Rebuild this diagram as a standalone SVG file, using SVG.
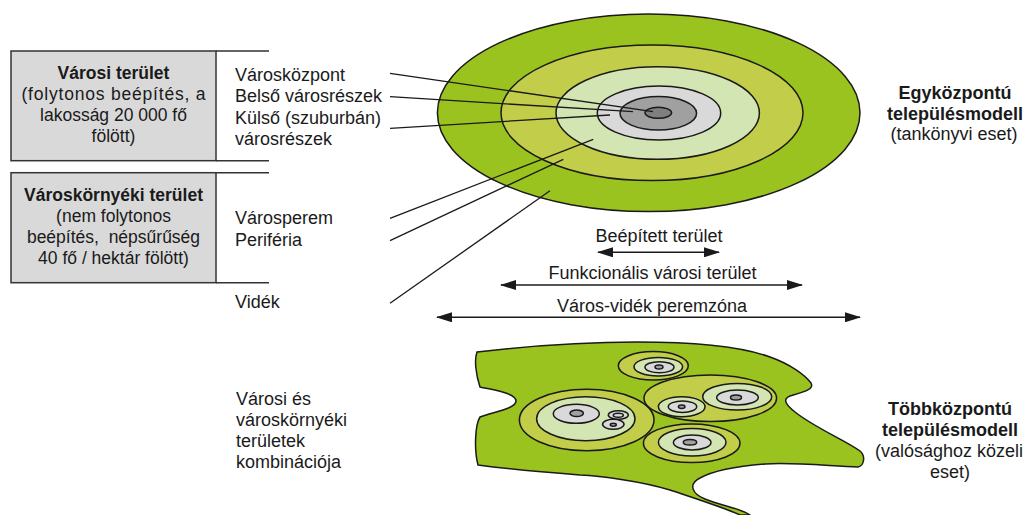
<svg xmlns="http://www.w3.org/2000/svg" width="1024" height="515" viewBox="0 0 1024 515">
<defs>
<style>
text{font-family:"Liberation Sans",Arial,sans-serif;font-size:18px;fill:#1a1a1a}
.s{font-size:17.5px}
.b{font-weight:bold}
.m{text-anchor:middle}
.box{fill:#d9d9d9;stroke:#333;stroke-width:1.5}
.fr{stroke:#333;stroke-width:1.5;fill:none}
.e{stroke:#1a1a1a;stroke-width:1.5}
.g1{fill:#9bc31f}.g2{fill:#c2ce4a}.g3{fill:#d3e5b2}.g4{fill:#d9d9d9}.g5{fill:#a0a0a0}.g6{fill:#7f7f7f}
.ld{stroke:#1a1a1a;stroke-width:1.3;fill:none}
.ar{stroke:#1a1a1a;stroke-width:1.6;fill:none;marker-start:url(#ah);marker-end:url(#ah)}
</style>
<marker id="ah" viewBox="0 0 16 10" refX="15" refY="5" markerWidth="16" markerHeight="10" markerUnits="userSpaceOnUse" orient="auto-start-reverse">
<path d="M0,0 L16,5 L0,10 Z" fill="#1a1a1a"/>
</marker>
</defs>
<rect width="1024" height="515" fill="#fff"/>

<g id="varosi-terulet">
<rect class="box" x="11" y="51" width="205" height="109.7"/>
<path class="fr" d="M216,51 H269 M216,160.7 H269"/>
<text class="s b m" x="113.5" y="78.5">Városi terület</text>
<text class="s m" x="113.5" y="99.5" textLength="184" lengthAdjust="spacing">(folytonos beépítés, a</text>
<text class="s m" x="113.5" y="120.5">lakosság 20 000 fő</text>
<text class="s m" x="113.5" y="141.5">fölött)</text>
</g>

<g id="varoskornyeki-terulet">
<rect class="box" x="11" y="172.7" width="205" height="110"/>
<path class="fr" d="M216,172.7 H269 M216,282.7 H269"/>
<text class="s b m" x="113.5" y="200.5">Városkörnyéki terület</text>
<text class="s m" x="113.5" y="221.5">(nem folytonos</text>
<text class="s m" x="113.5" y="242.5" xml:space="preserve">beépítés,  népsűrűség</text>
<text class="s m" x="113.5" y="263.5">40 fő / hektár fölött)</text>
</g>

<g id="zone-labels">
<text x="235" y="80.5">Városközpont</text>
<text x="235" y="102">Belső városrészek</text>
<text x="235" y="123.5">Külső (szuburbán)</text>
<text x="235" y="145">városrészek</text>
<text x="235" y="224">Városperem</text>
<text x="235" y="246">Periféria</text>
<text x="235" y="307.5">Vidék</text>
</g>

<g id="egykozpontu-modell">
<ellipse class="e g1" cx="648.7" cy="112.8" rx="211.3" ry="98.8"/>
<ellipse class="e g2" cx="652" cy="112.8" rx="151" ry="67.8"/>
<ellipse class="e g3" cx="657.7" cy="113" rx="101.7" ry="46.3"/>
<ellipse class="e g4" cx="659" cy="113" rx="61.7" ry="27"/>
<ellipse class="e g5" cx="658.3" cy="113.3" rx="38.3" ry="16.7"/>
<ellipse class="e g6" cx="658.3" cy="112.8" rx="13.3" ry="5.5"/>
</g>

<g id="egykozpontu-label">
<text class="b m" x="955" y="98.5">Egyközpontú</text>
<text class="b m" x="955" y="119.5">településmodell</text>
<text class="m" x="954" y="140">(tankönyvi eset)</text>
</g>

<g id="tobbkozpontu-modell">
<path class="e g1" d="M477,352 C520,347 580,342 637,342 C690,342 740,346 770,357 C790,364 805,375 811,383 C815,390 800,393 790,396 C782,399 786,405 795,412 C815,428 845,440 860,451 C866,456 864,466 858,467 C830,466 790,462 765,464 C740,466 715,470 700,478 C688,484 692,494 705,499 C722,506 740,508 750,515 L740,515 C725,508 700,500 670,490 C640,481 600,476 580,475 C540,472 500,468 478,465 C474,450 475,425 480,417 C492,412 516,409 516,401 C516,393 493,390 480,387 C476,375 474,360 477,352 Z"/>
<g id="kozpont-a">
<ellipse class="e g2" cx="653.3" cy="365.8" rx="35" ry="14.2"/>
<ellipse class="e g3" cx="658.3" cy="366.7" rx="24.3" ry="9.3"/>
<ellipse class="e g4" cx="659.5" cy="367.2" rx="14.5" ry="5.5"/>
<ellipse class="e g5" cx="659" cy="367" rx="4" ry="2"/>
</g>
<g id="kozpont-b">
<ellipse class="e g2" cx="710.3" cy="398.3" rx="66.3" ry="23.3"/>
<ellipse class="e g3" cx="737.2" cy="396.7" rx="34.5" ry="13.3"/>
<ellipse class="e g4" cx="737.5" cy="397.5" rx="20.8" ry="7.5"/>
<ellipse class="e g5" cx="736" cy="397.5" rx="5.5" ry="2.5"/>
<ellipse class="e g3" cx="681.7" cy="406.7" rx="23.3" ry="10"/>
<ellipse class="e g4" cx="682.5" cy="406.7" rx="14.2" ry="5.7"/>
<ellipse class="e g5" cx="681.7" cy="406.7" rx="3.3" ry="1.7"/>
</g>
<g id="kozpont-c">
<ellipse class="e g2" cx="586.7" cy="420" rx="67.3" ry="30.7"/>
<ellipse class="e g3" cx="585.8" cy="418.7" rx="49.2" ry="22"/>
<ellipse class="e g4" cx="576.3" cy="413.8" rx="23" ry="9.5"/>
<ellipse class="e g5" cx="576.7" cy="413.3" rx="6.7" ry="3.3"/>
<ellipse class="e g4" cx="618.3" cy="415" rx="10" ry="4.3"/>
<ellipse class="e g4" cx="618.3" cy="415.3" rx="5" ry="2"/>
<ellipse class="e g4" cx="613.3" cy="424.3" rx="10.7" ry="5"/>
<ellipse class="e g5" cx="613.3" cy="424.7" rx="3" ry="1.5"/>
</g>
<g id="kozpont-d">
<ellipse class="e g2" cx="691.7" cy="443.3" rx="48.3" ry="19.3"/>
<ellipse class="e g3" cx="692.2" cy="442.2" rx="33.8" ry="13.8"/>
<ellipse class="e g4" cx="692.2" cy="442.5" rx="18.8" ry="7.5"/>
<ellipse class="e g5" cx="690" cy="442.2" rx="6.7" ry="2.8"/>
</g>
</g>

<g id="kombinacio-label">
<text x="236" y="405">Városi és</text>
<text x="236" y="426">városkörnyéki</text>
<text x="236" y="447">területek</text>
<text x="236" y="468">kombinációja</text>
</g>

<g id="tobbkozpontu-label">
<text class="b m" x="950" y="415">Többközpontú</text>
<text class="b m" x="950" y="436">településmodell</text>
<text class="m" x="949" y="457">(valósághoz közeli</text>
<text class="m" x="950" y="478">eset)</text>
</g>

<g id="connectors">
<line class="ld" x1="390" y1="73.3" x2="653" y2="111.7"/>
<line class="ld" x1="390" y1="96.7" x2="633" y2="111.7"/>
<line class="ld" x1="390" y1="128.3" x2="610" y2="115"/>
<line class="ld" x1="390" y1="218.3" x2="593.3" y2="139.3"/>
<line class="ld" x1="390" y1="240.7" x2="563.3" y2="159.3"/>
<line class="ld" x1="390" y1="303.3" x2="550" y2="190.7"/>
<line class="ar" x1="598" y1="252.3" x2="719" y2="252.3"/>
<line class="ar" x1="501" y1="285" x2="802" y2="285"/>
<line class="ar" x1="437" y1="317.3" x2="860" y2="317.3"/>
</g>

<g id="scale-labels">
<text class="m" x="659" y="241.5">Beépített terület</text>
<text class="m" x="652.5" y="278.5">Funkcionális városi terület</text>
<text class="m" x="652" y="311.5">Város-vidék peremzóna</text>
</g>
</svg>
